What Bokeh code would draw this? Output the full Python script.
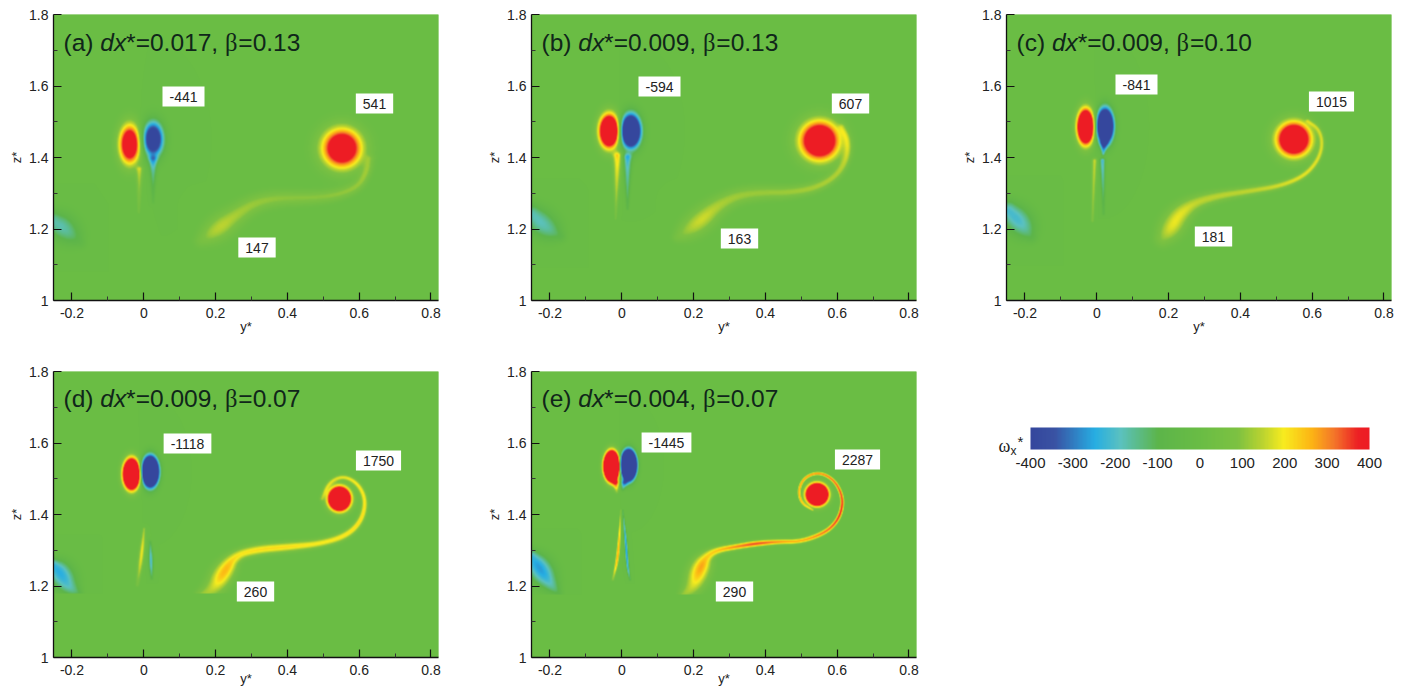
import numpy as np
from bokeh.embed import file_html
from bokeh.layouts import column, row
from bokeh.models import ColumnDataSource, FixedTicker, Label, LinearColorMapper, Range1d
from bokeh.core.properties import value
from bokeh.plotting import figure
from bokeh.resources import INLINE

# ------- values -------
x_ticks = [-0.2, 0, 0.2, 0.4, 0.6, 0.8]
x_tick_labels = ["-0.2", "0", "0.2", "0.4", "0.6", "0.8"]
x_minor = [-0.1, 0.1, 0.3, 0.5, 0.7]
z_ticks = [1, 1.2, 1.4, 1.6, 1.8]
z_tick_labels = ["1", "1.2", "1.4", "1.6", "1.8"]
z_minor = [1.1, 1.3, 1.5, 1.7]
cb_ticks = [-400, -300, -200, -100, 0, 100, 200, 300, 400]
cb_labels = ["-400", "-300", "-200", "-100", "0", "100", "200", "300", "400"]

# colour scale stops
scale_values = [-400, -345, -250, -190, -100, 0, 90, 150, 200, 265, 320, 375, 400]
scale_colors = ["#35479d", "#3a53a4", "#27aee3", "#5bc2c0", "#5db54a", "#6abd45", "#7dc242",
                "#bcd430", "#f8ec1f", "#fdb515", "#f4752a", "#ed2024", "#ed1c24"]

panel_a_title = ("(a) ", "0.017", "0.13")
panel_b_title = ("(b) ", "0.009", "0.13")
panel_c_title = ("(c) ", "0.009", "0.10")
panel_d_title = ("(d) ", "0.009", "0.07")
panel_e_title = ("(e) ", "0.004", "0.07")

panel_a_peaks = ["-441", "541", "147"]
panel_b_peaks = ["-594", "607", "163"]
panel_c_peaks = ["-841", "1015", "181"]
panel_d_peaks = ["-1118", "1750", "260"]
panel_e_peaks = ["-1445", "2287", "290"]

# vortices: y, z, half-width y, half-width z, amplitude
panel_a_vortices = [(-0.039, 1.437, 0.0267, 0.050, 650), (0.026, 1.451, 0.0265, 0.045, -600), (0.552, 1.426, 0.0504, 0.0504, 660)]
panel_b_vortices = [(-0.035, 1.474, 0.0244, 0.041, 1000), (0.025, 1.474, 0.0244, 0.041, -1000), (0.551, 1.447, 0.0493, 0.0493, 762)]
panel_c_vortices = [(-0.031, 1.486, 0.0198, 0.0414, 1200), (0.023, 1.488, 0.0198, 0.0414, -1200), (0.549, 1.451, 0.0423, 0.0423, 855)]
panel_d_vortices = [(-0.034, 1.513, 0.0185, 0.0336, 1800), (0.018, 1.520, 0.0185, 0.0336, -1800), (0.545, 1.444, 0.0244, 0.0262, 1750)]
panel_e_vortices = [(-0.028, 1.535, 0.0157, 0.030, 3000), (0.019, 1.538, 0.0157, 0.030, -3000), (0.544, 1.456, 0.0226, 0.0226, 2287)]

# filaments: y points, z points, amplitude points, half-width points
panel_a_filaments = [
    ([0.628, 0.621, 0.595, 0.531, 0.456, 0.373, 0.308, 0.253, 0.206, 0.160],
     [1.395, 1.358, 1.316, 1.293, 1.287, 1.287, 1.273, 1.237, 1.200, 1.167],
     [70, 110, 110, 105, 100, 105, 115, 130, 160, 60],
     [0.012, 0.014, 0.015, 0.017, 0.019, 0.022, 0.024, 0.028, 0.034, 0.020]),
    ([-0.012, -0.014], [1.367, 1.247], [140, 50], [0.009, 0.004]),
    ([0.026, 0.026], [1.395, 1.275], [-190, -50], [0.012, 0.004]),
    ([-0.250, -0.220, -0.178], [1.222, 1.200, 1.163], [-170, -180, -60], [0.030, 0.040, 0.018]),
]
panel_b_filaments = [
    ([0.613, 0.631, 0.627, 0.599, 0.544, 0.469, 0.386, 0.321, 0.266, 0.219, 0.182, 0.155],
     [1.484, 1.447, 1.395, 1.349, 1.316, 1.302, 1.302, 1.293, 1.265, 1.223, 1.195, 1.177],
     [90, 130, 130, 130, 130, 120, 115, 120, 135, 175, 115, 60],
     [0.010, 0.011, 0.012, 0.013, 0.015, 0.017, 0.020, 0.022, 0.026, 0.032, 0.028, 0.016]),
    ([-0.012, -0.017], [1.405, 1.228], [220, 60], [0.012, 0.003]),
    ([0.016, 0.016], [1.400, 1.256], [-220, -80], [0.012, 0.004]),
    ([-0.248, -0.216, -0.174], [1.240, 1.209, 1.181], [-180, -190, -90], [0.030, 0.040, 0.018]),
]
panel_c_filaments = [
    ([0.588, 0.620, 0.630, 0.616, 0.579, 0.514, 0.431, 0.338, 0.273, 0.231, 0.208, 0.185],
     [1.502, 1.479, 1.437, 1.391, 1.349, 1.321, 1.307, 1.293, 1.274, 1.242, 1.205, 1.175],
     [90, 130, 150, 170, 185, 170, 150, 150, 150, 190, 190, 100],
     [0.006, 0.007, 0.007, 0.008, 0.009, 0.010, 0.012, 0.015, 0.020, 0.028, 0.032, 0.024]),
    ([-0.006, -0.012], [1.391, 1.223], [160, 90], [0.007, 0.004]),
    ([0.016, 0.019], [1.391, 1.242], [-210, -70], [0.008, 0.004]),
    ([0.020, 0.018], [1.440, 1.410], [-240, -150], [0.010, 0.005]),
    ([-0.245, -0.213, -0.185], [1.250, 1.219, 1.181], [-210, -215, -100], [0.030, 0.040, 0.020]),
]
panel_d_filaments = [
    ([0.496, 0.515, 0.556, 0.598, 0.619, 0.607, 0.566, 0.492, 0.399, 0.316, 0.256, 0.223, 0.195, 0.158],
     [1.444, 1.490, 1.509, 1.486, 1.439, 1.383, 1.341, 1.318, 1.309, 1.302, 1.286, 1.239, 1.193, 1.172],
     [100, 150, 180, 200, 210, 220, 210, 200, 220, 220, 200, 285, 150, 110],
     [0.006, 0.007, 0.007, 0.008, 0.008, 0.009, 0.011, 0.011, 0.013, 0.014, 0.015, 0.028, 0.026, 0.016]),
    ([0.001, -0.006, -0.018], [1.360, 1.286, 1.202], [120, 220, 60], [0.004, 0.008, 0.005]),
    ([0.018, 0.020, 0.022], [1.323, 1.270, 1.220], [-100, -240, -90], [0.004, 0.007, 0.004]),
    ([-0.249, -0.231, -0.207, -0.180], [1.255, 1.234, 1.197, 1.179], [-235, -255, -190, -90], [0.022, 0.036, 0.026, 0.012]),
]
panel_e_filaments = [
    ([0.532, 0.500, 0.491, 0.509, 0.551, 0.593, 0.616, 0.611, 0.588, 0.551, 0.495, 0.440, 0.375, 0.319, 0.264, 0.236, 0.218, 0.199, 0.171],
     [1.412, 1.431, 1.468, 1.505, 1.519, 1.496, 1.449, 1.403, 1.366, 1.342, 1.324, 1.324, 1.319, 1.310, 1.300, 1.282, 1.249, 1.198, 1.175],
     [120, 230, 260, 280, 300, 320, 360, 380, 340, 300, 260, 280, 360, 300, 240, 230, 300, 160, 110],
     [0.003, 0.004, 0.004, 0.0045, 0.0045, 0.005, 0.005, 0.0055, 0.006, 0.007, 0.007, 0.007, 0.008, 0.008, 0.010, 0.016, 0.028, 0.026, 0.014]),
    ([-0.016, -0.014], [1.488, 1.463], [280, 100], [0.010, 0.005]),
    ([0.006, 0.003], [1.488, 1.470], [-250, -100], [0.010, 0.005]),
    ([-0.003, -0.006, -0.012, -0.025], [1.412, 1.347, 1.273, 1.217], [100, 230, 300, 100], [0.002, 0.004, 0.005, 0.004]),
    ([0.003, 0.011, 0.016, 0.023], [1.412, 1.328, 1.254, 1.217], [-100, -280, -260, -100], [0.002, 0.004, 0.004, 0.003]),
    ([-0.250, -0.227, -0.199, -0.176], [1.280, 1.247, 1.207, 1.179], [-225, -285, -190, -80], [0.022, 0.036, 0.024, 0.012]),
]

# ------- layout (pixels) -------
FW, FH = 385, 286
XMIN, XMAX, ZMIN, ZMAX = -0.2515, 0.8209, 1.0, 1.8
FONT = "Liberation Sans"


def hex_rgb(c):
    return [int(c[i:i + 2], 16) for i in (1, 3, 5)]


def make_palette():
    vals = np.linspace(-400, 400, 256)
    rgb = np.array([hex_rgb(c) for c in scale_colors], dtype=float)
    out = []
    for v in vals:
        r, g, b = (np.interp(v, scale_values, rgb[:, k]) for k in range(3))
        out.append("#%02x%02x%02x" % (int(r), int(g), int(b)))
    return out


PALETTE = make_palette()
mapper = LinearColorMapper(palette=PALETTE, low=-400, high=400)


def chaikin(arrs, n=3):
    a = np.array(arrs, dtype=float)
    for _ in range(n):
        if a.shape[1] < 3:
            break
        q = 0.75 * a[:, :-1] + 0.25 * a[:, 1:]
        r = 0.25 * a[:, :-1] + 0.75 * a[:, 1:]
        m = np.empty((a.shape[0], 2 * q.shape[1]))
        m[:, 0::2] = q
        m[:, 1::2] = r
        a = np.concatenate([a[:, :1], m, a[:, -1:]], axis=1)
    return a


def render_field(vortices, filaments, cut=None):
    ys = XMIN + (np.arange(FW) + 0.5) * (XMAX - XMIN) / FW
    zs = ZMIN + (np.arange(FH) + 0.5) * (ZMAX - ZMIN) / FH
    Y, Z = np.meshgrid(ys, zs)
    f = np.zeros_like(Y)
    for y0, z0, sy, sz, amp in vortices:
        f += amp * np.exp(-((Y - y0) / sy) ** 2 - ((Z - z0) / sz) ** 2)
    dy = (XMAX - XMIN) / FW
    dz = (ZMAX - ZMIN) / FH
    for py, pz, pa, pw in filaments:
        a = chaikin([py, pz, pa, pw])
        s = np.r_[0, np.cumsum(np.hypot(np.diff(a[0]), np.diff(a[1])))]
        t = np.arange(0, s[-1], 0.0012)
        cy, cz, ca, cw = (np.interp(t, s, a[k]) for k in range(4))
        g = np.zeros_like(Y)
        for y0, z0, amp, w in zip(cy, cz, ca, cw):
            r = 3.2 * w
            i0 = max(int((y0 - r - XMIN) / dy), 0)
            i1 = min(int((y0 + r - XMIN) / dy) + 2, FW)
            j0 = max(int((z0 - r - ZMIN) / dz), 0)
            j1 = min(int((z0 + r - ZMIN) / dz) + 2, FH)
            if i1 <= i0 or j1 <= j0:
                continue
            v = amp * np.exp(-((Y[j0:j1, i0:i1] - y0) ** 2 + (Z[j0:j1, i0:i1] - z0) ** 2) / w ** 2)
            sub = g[j0:j1, i0:i1]
            g[j0:j1, i0:i1] = np.where(np.abs(v) > np.abs(sub), v, sub)
        f += g
    if cut is not None:
        f[Z < cut] = 0
    return f


def style_axes(p, is_bottom_row):
    ax = p.xaxis[0]
    ay = p.yaxis[0]
    ax.ticker = FixedTicker(ticks=x_ticks, minor_ticks=x_minor)
    ax.major_label_overrides = dict(zip(x_ticks, x_tick_labels))
    ay.ticker = FixedTicker(ticks=z_ticks, minor_ticks=z_minor)
    ay.major_label_overrides = dict(zip(z_ticks, z_tick_labels))
    for a in (ax, ay):
        a.axis_line_color = "#111111"
        a.axis_line_width = 1.3
        a.major_tick_in = 8
        a.major_tick_out = 0
        a.minor_tick_in = 4
        a.minor_tick_out = 0
        a.major_tick_line_color = "#111111"
        a.major_tick_line_width = 1.2
        a.minor_tick_line_color = "#333333"
        a.major_label_text_font = FONT
        a.major_label_text_font_size = "14px"
        a.major_label_text_color = "#222222"
        a.axis_label_text_font = FONT
        a.axis_label_text_font_size = "13px"
        a.axis_label_text_font_style = "normal"
        a.axis_label_text_color = "#222222"
    ax.major_label_standoff = 7
    ay.major_label_standoff = 5
    ax.axis_label = "y*"
    ay.axis_label = "z*"
    ax.axis_label_standoff = -7 if is_bottom_row else -2
    ay.axis_label_standoff = 2


EM = {"(": .333, ")": .333, " ": .278, "a": .556, "b": .556, "c": .5, "d": .556, "e": .556, "x": .5,
      "*": .389, "=": .584, ".": .278, ",": .278}


def text_w(s, size):
    return sum(EM.get(ch, .556) for ch in s) * size


def add_title(p, px_x, px_y, title):
    tag, dx, beta = title
    size = 24.5
    scale_x = (XMAX - XMIN) / FW
    scale_z = (ZMAX - ZMIN) / FH
    runs = [(tag, FONT, "normal"), ("dx", FONT, "italic"), ("*=" + dx + ", ", FONT, "normal"),
            ("\u03b2", "Liberation Serif", "normal"), ("=" + beta, FONT, "normal")]
    cur = px_x
    for txt, font, style in runs:
        p.add_layout(Label(x=XMIN + cur * scale_x, y=ZMAX - px_y * scale_z, text=txt.replace(" ", "\u00a0"),
                           text_font=font, text_font_style=style, text_font_size=f"{size}px",
                           text_color="#10261a", text_baseline="alphabetic", text_align="left"))
        cur += 0.55 * size if font != FONT else text_w(txt, size)


def add_peak(p, px_x, px_y, txt):
    scale_x = (XMAX - XMIN) / FW
    scale_z = (ZMAX - ZMIN) / FH
    p.add_layout(Label(x=XMIN + px_x * scale_x, y=ZMAX - px_y * scale_z, text=txt,
                       text_font=FONT, text_font_size="14px", text_color="#222222",
                       text_align="center", text_baseline="middle",
                       background_fill_color="white", padding=(7, 5)))


def panel(vortices, filaments, title, title_xy, peaks, peak_xy, left, right, top, bottom, bottom_row, cut=None):
    p = figure(width=left + FW + right, height=top + FH + bottom, output_backend="svg", toolbar_location=None,
               x_range=Range1d(XMIN, XMAX), y_range=Range1d(ZMIN, ZMAX),
               min_border_left=left, min_border_right=right, min_border_top=top, min_border_bottom=bottom,
               outline_line_color=None, background_fill_color="#6abd45")
    p.grid.visible = False
    field = render_field(vortices, filaments, cut)
    src = ColumnDataSource(dict(image=[field], x=[XMIN], y=[ZMIN], dw=[XMAX - XMIN], dh=[ZMAX - ZMIN]))
    p.image(image="image", x="x", y="y", dw="dw", dh="dh", source=src, color_mapper=mapper)
    style_axes(p, bottom_row)
    add_title(p, title_xy[0], title_xy[1], title)
    for (px, py), t in zip(peak_xy, peaks):
        add_peak(p, px, py, t)
    return p


BOTTOM2 = 32
pa = panel(panel_a_vortices, panel_a_filaments, panel_a_title, (10, 28), panel_a_peaks,
           [(130, 82), (321, 89), (203.5, 233)], 53, 42, 14, 55, False)
pb = panel(panel_b_vortices, panel_b_filaments, panel_b_title, (10, 28), panel_b_peaks,
           [(128, 72), (319, 89), (208, 224)], 51, 39, 14, 55, False)
pc = panel(panel_c_vortices, panel_c_filaments, panel_c_title, (10, 28), panel_c_peaks,
           [(130, 70), (325, 87), (207, 222)], 51, 4, 14, 55, False)
pd_ = panel(panel_d_vortices, panel_d_filaments, panel_d_title, (10, 27), panel_d_peaks,
            [(134, 72), (325, 89), (202, 220)], 53, 42, 16, BOTTOM2, True, cut=1.179)
pe = panel(panel_e_vortices, panel_e_filaments, panel_e_title, (10, 27), panel_e_peaks,
           [(135, 71), (326, 88), (203, 220)], 51, 39, 16, BOTTOM2, True, cut=1.175)

# colour bar panel: same top and bottom as its row, with room on the left for its title
cscale = 800 / 339
cb = figure(width=440, height=16 + FH + BOTTOM2, output_backend="svg", toolbar_location=None,
            x_range=Range1d(-400 - 54 * cscale, 400 + 22 * cscale), y_range=Range1d(0, FH),
            min_border_left=21, min_border_right=4, min_border_top=16, min_border_bottom=BOTTOM2,
            outline_line_color=None)
cb.grid.visible = False
cb.axis.visible = False
cb_x = np.linspace(-400, 400, 340)
cb.image(image=[cb_x[np.newaxis, :]], x=-400, y=FH - 78, dw=800, dh=22, color_mapper=mapper)
cb.text(x=cb_ticks, y=[FH - 91] * len(cb_ticks), text=cb_labels, text_font=value(FONT), text_font_size="15px",
        text_color="#222222", text_align="center", text_baseline="middle")
for txt, font, size, dx, yy in [("\u03c9", "Liberation Serif", "18px", -32, FH - 74),
                                ("x", FONT, "12px", -20, FH - 79),
                                ("*", FONT, "15px", -13, FH - 70)]:
    cb.add_layout(Label(x=-400 + dx * cscale, y=yy, text=txt, text_font=font, text_font_size=size,
                        text_color="#222222", text_baseline="alphabetic"))

page = column(row(pa, pb, pc, spacing=0), row(pd_, pe, cb, spacing=0), spacing=0)
open("out.html", "w").write(file_html(page, INLINE))
